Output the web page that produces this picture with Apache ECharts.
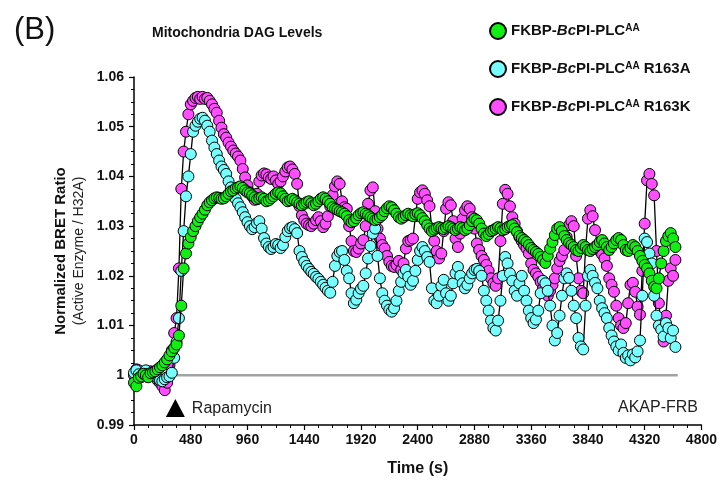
<!DOCTYPE html>
<html><head><meta charset="utf-8">
<script src="https://cdn.jsdelivr.net/npm/echarts@6/dist/echarts.min.js"></script>
<style>html,body{margin:0;padding:0;background:#fff}#c{width:720px;height:489px}</style>
</head><body><div id="c"></div>
<script>
// Time (s)
const times = [
0,20,40,60,80,100,120,140,160,180,
200,220,240,260,280,300,320,340,360,380,
400,420,440,460,480,500,520,540,560,580,
600,620,640,660,680,700,720,740,760,780,
800,820,840,860,880,900,920,940,960,980,
1000,1020,1040,1060,1080,1100,1120,1140,1160,1180,
1200,1220,1240,1260,1280,1300,1320,1340,1360,1380,
1400,1420,1440,1460,1480,1500,1520,1540,1560,1580,
1600,1620,1640,1660,1680,1700,1720,1740,1760,1780,
1800,1820,1840,1860,1880,1900,1920,1940,1960,1980,
2000,2020,2040,2060,2080,2100,2120,2140,2160,2180,
2200,2220,2240,2260,2280,2300,2320,2340,2360,2380,
2400,2420,2440,2460,2480,2500,2520,2540,2560,2580,
2600,2620,2640,2660,2680,2700,2720,2740,2760,2780,
2800,2820,2840,2860,2880,2900,2920,2940,2960,2980,
3000,3020,3040,3060,3080,3100,3120,3140,3160,3180,
3200,3220,3240,3260,3280,3300,3320,3340,3360,3380,
3400,3420,3440,3460,3480,3500,3520,3540,3560,3580,
3600,3620,3640,3660,3680,3700,3720,3740,3760,3780,
3800,3820,3840,3860,3880,3900,3920,3940,3960,3980,
4000,4020,4040,4060,4080,4100,4120,4140,4160,4180,
4200,4220,4240,4260,4280,4300,4320,4340,4360,4380,
4400,4420,4440,4460,4480,4500,4520,4540,4560,4580];

// FKBP-BcPI-PLC AA (green)
const plcAA = [
0.9985,0.9978,0.9995,0.9998,1.0003,1.0000,0.9996,1.0004,1.0006,1.0008,
1.0012,1.0016,1.0020,1.0026,1.0032,1.0040,1.0048,1.0055,1.0062,1.0080,
1.0140,1.0215,1.0245,1.0265,1.0278,1.0290,1.0300,1.0310,1.0318,1.0325,
1.0333,1.0342,1.0348,1.0352,1.0356,1.0358,1.0357,1.0355,1.0356,1.0360,
1.0365,1.0370,1.0372,1.0376,1.0378,1.0380,1.0377,1.0372,1.0368,1.0366,
1.0362,1.0358,1.0354,1.0356,1.0358,1.0355,1.0350,1.0352,1.0356,1.0360,
1.0365,1.0368,1.0366,1.0360,1.0355,1.0350,1.0352,1.0355,1.0352,1.0348,
1.0345,1.0342,1.0345,1.0348,1.0350,1.0346,1.0342,1.0345,1.0350,1.0355,
1.0358,1.0355,1.0350,1.0345,1.0338,1.0335,1.0333,1.0330,1.0328,1.0325,
1.0320,1.0312,1.0308,1.0310,1.0316,1.0322,1.0326,1.0328,1.0325,1.0322,
1.0318,1.0315,1.0312,1.0314,1.0318,1.0322,1.0330,1.0336,1.0340,1.0338,
1.0332,1.0325,1.0318,1.0315,1.0318,1.0322,1.0325,1.0322,1.0320,1.0324,
1.0326,1.0322,1.0316,1.0310,1.0302,1.0295,1.0290,1.0293,1.0296,1.0298,
1.0296,1.0294,1.0297,1.0300,1.0298,1.0295,1.0292,1.0295,1.0298,1.0296,
1.0292,1.0295,1.0302,1.0310,1.0315,1.0312,1.0305,1.0295,1.0285,1.0280,
1.0284,1.0290,1.0292,1.0295,1.0298,1.0296,1.0292,1.0294,1.0298,1.0300,
1.0302,1.0295,1.0288,1.0280,1.0276,1.0272,1.0268,1.0262,1.0256,1.0252,
1.0248,1.0244,1.0238,1.0232,1.0226,1.0240,1.0255,1.0268,1.0282,1.0295,
1.0298,1.0290,1.0280,1.0272,1.0266,1.0262,1.0258,1.0252,1.0250,1.0256,
1.0262,1.0258,1.0252,1.0250,1.0254,1.0258,1.0262,1.0268,1.0272,1.0265,
1.0258,1.0252,1.0258,1.0265,1.0272,1.0276,1.0272,1.0262,1.0252,1.0250,
1.0256,1.0262,1.0258,1.0250,1.0240,1.0230,1.0222,1.0215,1.0205,1.0190,
1.0178,1.0175,1.0195,1.0225,1.0250,1.0270,1.0280,1.0286,1.0275,1.0258];

// FKBP-BcPI-PLC AA R163A (cyan)
const plcR163A = [
1.0005,1.0010,1.0002,0.9996,1.0004,1.0010,1.0003,0.9998,1.0006,1.0002,
0.9995,0.9990,0.9988,0.9992,0.9996,0.9998,1.0005,1.0035,1.0067,1.0115,
1.0210,1.0290,1.0360,1.0400,1.0445,1.0490,1.0502,1.0510,1.0516,1.0518,
1.0512,1.0502,1.0490,1.0472,1.0458,1.0445,1.0432,1.0420,1.0413,1.0405,
1.0390,1.0378,1.0366,1.0355,1.0346,1.0338,1.0328,1.0318,1.0308,1.0300,
1.0294,1.0298,1.0306,1.0310,1.0295,1.0276,1.0265,1.0258,1.0254,1.0258,
1.0264,1.0262,1.0256,1.0262,1.0278,1.0290,1.0296,1.0298,1.0294,1.0286,
1.0250,1.0238,1.0228,1.0220,1.0214,1.0208,1.0204,1.0198,1.0194,1.0188,
1.0182,1.0176,1.0170,1.0166,1.0188,1.0220,1.0240,1.0248,1.0250,1.0232,
1.0210,1.0195,1.0165,1.0145,1.0152,1.0165,1.0174,1.0180,1.0205,1.0235,
1.0260,1.0285,1.0295,1.0240,1.0195,1.0165,1.0150,1.0140,1.0132,1.0128,
1.0135,1.0150,1.0170,1.0188,1.0205,1.0212,1.0198,1.0182,1.0190,1.0210,
1.0232,1.0250,1.0258,1.0250,1.0238,1.0228,1.0175,1.0150,1.0145,1.0160,
1.0180,1.0192,1.0165,1.0150,1.0160,1.0185,1.0205,1.0218,1.0200,1.0185,
1.0175,1.0182,1.0195,1.0205,1.0212,1.0214,1.0210,1.0200,1.0170,1.0150,
1.0130,1.0110,1.0095,1.0090,1.0110,1.0150,1.0200,1.0238,1.0225,1.0205,
1.0190,1.0170,1.0160,1.0185,1.0200,1.0170,1.0150,1.0130,1.0115,1.0105,
1.0112,1.0130,1.0165,1.0190,1.0185,1.0170,1.0140,1.0100,1.0070,1.0085,
1.0120,1.0160,1.0195,1.0205,1.0196,1.0170,1.0140,1.0115,1.0075,1.0058,
1.0052,1.0140,1.0200,1.0212,1.0200,1.0186,1.0175,1.0150,1.0135,1.0125,
1.0115,1.0095,1.0080,1.0068,1.0058,1.0050,1.0062,1.0045,1.0035,1.0040,
1.0030,1.0042,1.0036,1.0048,1.0070,1.0160,1.0275,1.0268,1.0245,1.0225,
1.0160,1.0120,1.0100,1.0092,1.0078,1.0105,1.0095,1.0075,1.0090,1.0057];

// FKBP-BcPI-PLC AA R163K (magenta)
const plcR163K = [
1.0000,1.0012,1.0010,1.0005,1.0000,0.9998,1.0004,1.0008,1.0002,0.9996,
0.9990,0.9985,0.9978,0.9970,0.9985,1.0020,1.0050,1.0085,1.0115,1.0215,
1.0375,1.0450,1.0490,1.0525,1.0545,1.0552,1.0558,1.0560,1.0556,1.0560,
1.0556,1.0558,1.0552,1.0545,1.0536,1.0528,1.0512,1.0498,1.0485,1.0478,
1.0468,1.0460,1.0452,1.0446,1.0440,1.0432,1.0415,1.0398,1.0382,1.0368,
1.0360,1.0353,1.0365,1.0390,1.0402,1.0406,1.0404,1.0398,1.0395,1.0400,
1.0392,1.0385,1.0390,1.0400,1.0410,1.0418,1.0420,1.0414,1.0405,1.0385,
1.0340,1.0322,1.0312,1.0305,1.0302,1.0300,1.0305,1.0312,1.0318,1.0310,
1.0298,1.0305,1.0320,1.0340,1.0362,1.0380,1.0390,1.0385,1.0350,1.0338,
1.0335,1.0300,1.0270,1.0250,1.0248,1.0255,1.0265,1.0272,1.0300,1.0345,
1.0372,1.0378,1.0330,1.0295,1.0275,1.0262,1.0255,1.0240,1.0228,1.0220,
1.0218,1.0222,1.0230,1.0212,1.0225,1.0255,1.0270,1.0272,1.0275,1.0320,
1.0355,1.0368,1.0372,1.0365,1.0352,1.0340,1.0295,1.0270,1.0250,1.0235,
1.0245,1.0290,1.0335,1.0348,1.0342,1.0310,1.0275,1.0258,1.0285,1.0315,
1.0332,1.0340,1.0335,1.0318,1.0295,1.0265,1.0252,1.0240,1.0232,1.0222,
1.0210,1.0195,1.0185,1.0180,1.0195,1.0270,1.0345,1.0373,1.0365,1.0340,
1.0318,1.0305,1.0290,1.0278,1.0270,1.0262,1.0255,1.0245,1.0225,1.0212,
1.0205,1.0198,1.0188,1.0175,1.0165,1.0160,1.0170,1.0182,1.0195,1.0215,
1.0230,1.0240,1.0252,1.0278,1.0302,1.0310,1.0300,1.0240,1.0195,1.0170,
1.0165,1.0255,1.0315,1.0332,1.0320,1.0292,1.0262,1.0250,1.0243,1.0235,
1.0220,1.0195,1.0182,1.0168,1.0140,1.0115,1.0100,1.0095,1.0105,1.0145,
1.0182,1.0186,1.0168,1.0138,1.0122,1.0210,1.0305,1.0392,1.0405,1.0385,
1.0362,1.0250,1.0145,1.0095,1.0068,1.0120,1.0190,1.0215,1.0200,1.0232];

const seriesNames = ['FKBP-BcPI-PLCAA', 'FKBP-BcPI-PLCAA R163A', 'FKBP-BcPI-PLCAA R163K'];
const legendRich = {
  'FKBP-BcPI-PLCAA': 'FKBP-{i|Bc}PI-PLC{s|AA}',
  'FKBP-BcPI-PLCAA R163A': 'FKBP-{i|Bc}PI-PLC{s|AA}{n| R163A}',
  'FKBP-BcPI-PLCAA R163K': 'FKBP-{i|Bc}PI-PLC{s|AA}{n| R163K}'
};
const xTicks = {min: 0, max: 4800, interval: 480};
const yTicks = {min: 0.99, max: 1.06, interval: 0.01};
const baselineValue = 1;
const baselineRange = [0, 4600];
const rapamycinTime = 350;
const rapamycinMarkY = 0.9934;

const FONT = '"Liberation Sans", Arial, Helvetica, sans-serif';
const pts = v => times.map((t, i) => [t, v[i]]);

const chart = echarts.init(document.getElementById('c'), null, {renderer: 'canvas'});

function dataSeries(name, values, color, z) {
  return {
    name, type: 'line', data: pts(values), z,
    symbol: 'circle', symbolSize: 11, showSymbol: true, showAllSymbol: true,
    lineStyle: {color: '#000', width: 1.3},
    itemStyle: {color, borderColor: '#000', borderWidth: 1},
    emphasis: {disabled: true}, silent: true, animation: false
  };
}

chart.setOption({
  animation: false,
  backgroundColor: '#fff',
  title: [
    {text: '(B)', left: 9, top: 10, textStyle: {fontFamily: FONT, fontSize: 31, fontWeight: 'normal', color: '#111'}},
    {text: 'Mitochondria DAG Levels', left: 147, top: 21, textStyle: {fontFamily: FONT, fontSize: 14, fontWeight: 'bold', color: '#111'}}
  ],
  legend: {
    data: seriesNames,
    orient: 'vertical', left: 484, top: 17, itemGap: 20,
    itemWidth: 16, itemHeight: 16, icon: 'circle',
    selectedMode: false,
    formatter: n => legendRich[n],
    textStyle: {
      fontFamily: FONT, fontSize: 15, fontWeight: 'bold', color: '#111',
      rich: {
        i: {fontFamily: FONT, fontSize: 15, fontWeight: 'bold', fontStyle: 'italic', color: '#111'},
        s: {fontFamily: FONT, fontSize: 10, fontWeight: 'bold', color: '#111', verticalAlign: 'top'},
        n: {fontFamily: FONT, fontSize: 15, fontWeight: 'bold', color: '#111'}
      }
    }
  },
  grid: {left: 134, right: 11, top: 77, bottom: 64, containLabel: false},
  xAxis: {
    type: 'value', min: xTicks.min, max: xTicks.max, interval: xTicks.interval,
    name: 'Time (s)', nameLocation: 'middle', nameGap: 36,
    nameTextStyle: {fontFamily: FONT, fontSize: 16, fontWeight: 'bold', color: '#111'},
    axisLine: {show: true, lineStyle: {color: '#000', width: 1.5}},
    axisTick: {show: true, length: 5, lineStyle: {color: '#000', width: 1.2}},
    minorTick: {show: true, splitNumber: 4, length: 3, lineStyle: {color: '#000', width: 1}},
    axisLabel: {fontFamily: FONT, fontSize: 14, fontWeight: 'bold', color: '#111', margin: 8,
                formatter: v => String(v)},
    splitLine: {show: false}, minorSplitLine: {show: false}
  },
  yAxis: {
    type: 'value', min: yTicks.min, max: yTicks.max, interval: yTicks.interval,
    name: '{a|Normalized BRET Ratio}\n{b|(Active Enzyme / H32A)}',
    nameLocation: 'middle', nameGap: 41, nameRotate: 90,
    nameTextStyle: {
      rich: {
        a: {fontFamily: FONT, fontSize: 15, fontWeight: 'bold', color: '#111', lineHeight: 18, align: 'center'},
        b: {fontFamily: FONT, fontSize: 14, fontWeight: 'normal', color: '#222', lineHeight: 18, align: 'center'}
      }
    },
    axisLine: {show: true, lineStyle: {color: '#000', width: 1.5}},
    axisTick: {show: true, length: 5, lineStyle: {color: '#000', width: 1.2}},
    minorTick: {show: true, splitNumber: 4, length: 3, lineStyle: {color: '#000', width: 1}},
    axisLabel: {
      fontFamily: FONT, fontSize: 14, fontWeight: 'bold', color: '#111', margin: 10,
      formatter: v => String(parseFloat(v.toFixed(2)))
    },
    splitLine: {show: false}, minorSplitLine: {show: false}
  },
  graphic: [
    {type: 'text', right: 22, top: 400, style: {text: 'AKAP-FRB', font: '16px ' + FONT, fill: '#222'}}
  ],
  series: [
    {
      name: 'baseline', type: 'line', z: 1, silent: true, symbol: 'none',
      data: [[baselineRange[0], baselineValue], [baselineRange[1], baselineValue]],
      lineStyle: {color: '#a3a3a3', width: 2.5},
      markPoint: {
        silent: true,
        data: [{
          coord: [rapamycinTime, rapamycinMarkY], symbol: 'triangle', symbolSize: [19, 18],
          itemStyle: {color: '#000'},
          label: {show: true, position: 'right', distance: 7, formatter: 'Rapamycin',
                  fontFamily: FONT, fontSize: 16, color: '#222'}
        }]
      }
    },
    dataSeries(seriesNames[2], plcR163K, '#ff4dff', 2),
    dataSeries(seriesNames[1], plcR163A, '#77ffff', 3),
    dataSeries(seriesNames[0], plcAA, '#11ee11', 4)
  ]
});
</script>
</body></html>
